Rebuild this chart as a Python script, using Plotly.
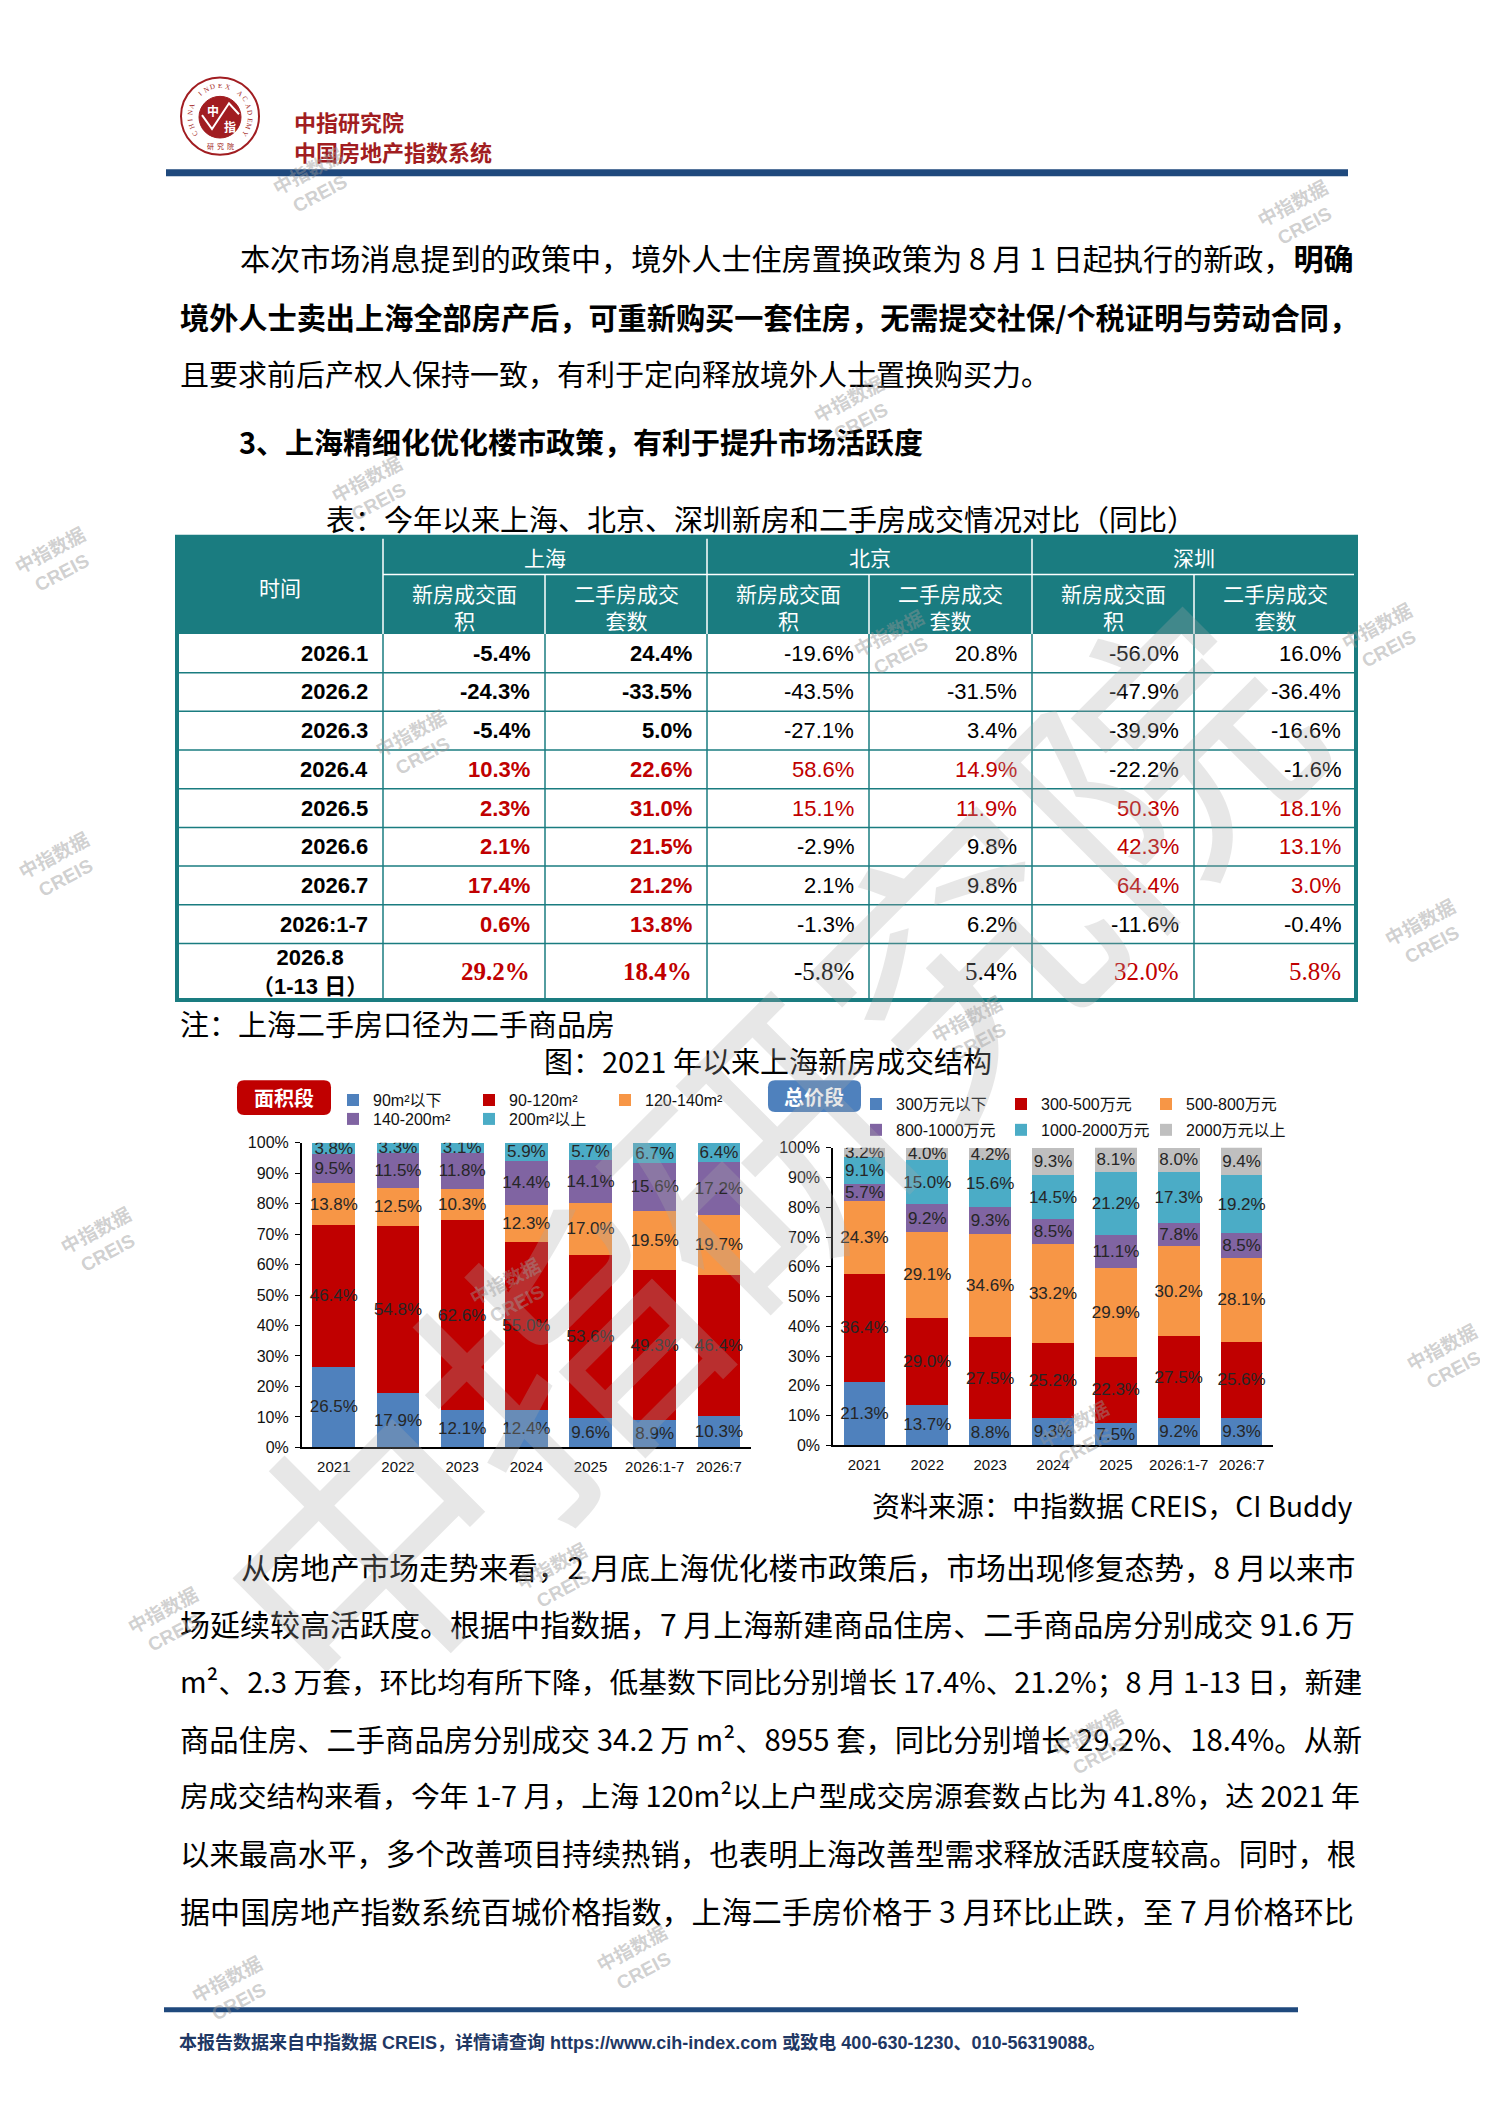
import re
import math
import plotly.graph_objects as go

W, H = 1488, 2104

# ---------------- data ----------------
years = ["2021", "2022", "2023", "2024", "2025", "2026:1-7", "2026:7"]

area_names = ["90m²以下", "90-120m²", "120-140m²", "140-200m²", "200m²以上"]
area_colors = ["#4F81BD", "#C00000", "#F79646", "#8064A2", "#4BACC6"]
area_lt90 = [26.5, 17.9, 12.1, 12.4, 9.6, 8.9, 10.3]
area_90_120 = [46.4, 54.8, 62.6, 55.0, 53.6, 49.3, 46.4]
area_120_140 = [13.8, 12.5, 10.3, 12.3, 17.0, 19.5, 19.7]
area_140_200 = [9.5, 11.5, 11.8, 14.4, 14.1, 15.6, 17.2]
area_gt200 = [3.8, 3.3, 3.1, 5.9, 5.7, 6.7, 6.4]

price_names = ["300万元以下", "300-500万元", "500-800万元",
               "800-1000万元", "1000-2000万元", "2000万元以上"]
price_colors = ["#4F81BD", "#C00000", "#F79646", "#8064A2", "#4BACC6", "#BFBFBF"]
p_lt300 = [21.3, 13.7, 8.8, 9.3, 7.5, 9.2, 9.3]
p_300_500 = [36.4, 29.0, 27.5, 25.2, 22.3, 27.5, 25.6]
p_500_800 = [24.3, 29.1, 34.6, 33.2, 29.9, 30.2, 28.1]
p_800_1000 = [5.7, 9.2, 9.3, 8.5, 11.1, 7.8, 8.5]
p_1000_2000 = [9.1, 15.0, 15.6, 14.5, 21.2, 17.3, 19.2]
p_gt2000 = [3.2, 4.0, 4.2, 9.3, 8.1, 8.0, 9.4]

pct_ticks = list(range(0, 101, 10))
pct_labels = [f"{v}%" for v in pct_ticks]

periods = ["2026.1", "2026.2", "2026.3", "2026.4", "2026.5", "2026.6",
           "2026.7", "2026:1-7", "2026.8<br>（1-13 日）"]
cities = ["上海", "北京", "深圳"]
sub_heads = ["新房成交面<br>积", "二手房成交<br>套数"]
sh_new = [-5.4, -24.3, -5.4, 10.3, 2.3, 2.1, 17.4, 0.6, 29.2]
sh_used = [24.4, -33.5, 5.0, 22.6, 31.0, 21.5, 21.2, 13.8, 18.4]
bj_new = [-19.6, -43.5, -27.1, 58.6, 15.1, -2.9, 2.1, -1.3, -5.8]
bj_used = [20.8, -31.5, 3.4, 14.9, 11.9, 9.8, 9.8, 6.2, 5.4]
sz_new = [-56.0, -47.9, -39.9, -22.2, 50.3, 42.3, 64.4, -11.6, 32.0]
sz_used = [16.0, -36.4, -16.6, -1.6, 18.1, 13.1, 3.0, -0.4, 5.8]
# rows printed in red, per city
red_rows = {"上海": [3, 4, 5, 6, 7, 8], "北京": [3, 4], "深圳": [4, 5, 6, 8]}

para1 = [
    "本次市场消息提到的政策中，境外人士住房置换政策为 8 月 1 日起执行的新政，<b>明确</b>",
    "<b>境外人士卖出上海全部房产后，可重新购买一套住房，无需提交社保/个税证明与劳动合同，</b>",
    "且要求前后产权人保持一致，有利于定向释放境外人士置换购买力。",
]
heading = "<b>3、上海精细化优化楼市政策，有利于提升市场活跃度</b>"
para2 = [
    "从房地产市场走势来看，2 月底上海优化楼市政策后，市场出现修复态势，8 月以来市",
    "场延续较高活跃度。根据中指数据，7 月上海新建商品住房、二手商品房分别成交 91.6 万",
    "m²、2.3 万套，环比均有所下降，低基数下同比分别增长 17.4%、21.2%；8 月 1-13 日，新建",
    "商品住房、二手商品房分别成交 34.2 万 m²、8955 套，同比分别增长 29.2%、18.4%。从新",
    "房成交结构来看，今年 1-7 月，上海 120m²以上户型成交房源套数占比为 41.8%，达 2021 年",
    "以来最高水平，多个改善项目持续热销，也表明上海改善型需求释放活跃度较高。同时，根",
    "据中国房地产指数系统百城价格指数，上海二手房价格于 3 月环比止跌，至 7 月价格环比",
]

CJK = "Noto Sans CJK SC"
SANS = "Liberation Sans, Noto Sans CJK SC"
SERIF = "Liberation Serif, Noto Sans CJK SC"
TEAL = "#1A7C80"
RED = "#C00000"


def X(p):
    return p / W


def Y(p):
    return 1 - p / H


annotations = []
shapes = []


def txt(x, y, s, size, color="#000000", xa="left", ya="middle", family=CJK, angle=0):
    annotations.append(dict(
        x=X(x), y=Y(y), xref="paper", yref="paper", text=s, showarrow=False,
        xanchor=xa, yanchor=ya, textangle=angle,
        font=dict(family=family, size=size, color=color)))


def line(x0, y0, x1, y1, color, width):
    shapes.append(dict(type="line", xref="paper", yref="paper",
                       x0=X(x0), y0=Y(y0), x1=X(x1), y1=Y(y1),
                       line=dict(color=color, width=width)))


def rect(x0, y0, x1, y1, fill, lc=None, lw=0):
    shapes.append(dict(type="rect", xref="paper", yref="paper",
                       x0=X(x0), y0=Y(y0), x1=X(x1), y1=Y(y1), fillcolor=fill,
                       line=dict(color=lc or fill, width=lw), layer="below"))


def rounded(x0, y0, x1, y1, r, fill):
    pts = [("M", x0 + r, y0), ("L", x1 - r, y0), ("Q", x1, y0, x1, y0 + r),
           ("L", x1, y1 - r), ("Q", x1, y1, x1 - r, y1), ("L", x0 + r, y1),
           ("Q", x0, y1, x0, y1 - r), ("L", x0, y0 + r), ("Q", x0, y0, x0 + r, y0)]
    path = ""
    for p in pts:
        coords = p[1:]
        seg = " ".join(f"{X(coords[i]):.5f},{Y(coords[i + 1]):.5f}" for i in range(0, len(coords), 2))
        path += f"{p[0]} {seg} "
    shapes.append(dict(type="path", xref="paper", yref="paper", path=path + "Z",
                       fillcolor=fill, line=dict(width=0)))


def est_em(s):
    s = re.sub(r"<[^>]+>", "", s)
    w = 0
    for ch in s:
        if ord(ch) > 0x2E80:
            w += 1.0
        elif ch == " ":
            w += 0.25
        elif ch in ".,:;":
            w += 0.27
        elif ch in "-/":
            w += 0.33
        elif ch == "%":
            w += 0.88
        elif ch == "m":
            w += 0.83
        elif ch == "²":
            w += 0.36
        else:
            w += 0.55
    return w


def body_line(x, y, s, justify=True, right=1347):
    size = 29
    if justify:
        size = max(26, min(31, (right - x) / est_em(s)))
    txt(x, y, s, size)


# ---------------- header ----------------
shapes.append(dict(type="circle", xref="paper", yref="paper",
                   x0=X(173), x1=X(251), y0=Y(62), y1=Y(140),
                   line=dict(color="#A11D21", width=2)))
shapes.append(dict(type="circle", xref="paper", yref="paper",
                   x0=X(191), x1=X(233), y0=Y(81), y1=Y(123),
                   fillcolor="#A11D21", line=dict(color="#A11D21", width=1)))
ring = "CHINA INDEX ACADEMY"
for i, ch in enumerate(ring):
    th = math.radians(215 - i * 250 / (len(ring) - 1))
    txt(212 + 30 * math.cos(th), 101 - 30 * math.sin(th), ch, 7, "#A11D21",
        xa="center", family="Liberation Serif", angle=90 - math.degrees(th))
for i, ch in enumerate("研究院"):
    txt(202 + i * 10, 131, ch, 7, "#A11D21", xa="center")
txt(205, 95, "<b>中</b>", 12, "white", xa="center")
txt(222, 111, "<b>指</b>", 12, "white", xa="center")
shapes.append(dict(type="path", xref="paper", yref="paper",
                   path=f"M {X(194)},{Y(100)} L {X(204)},{Y(114)} L {X(221)},{Y(88)} L {X(231)},{Y(99)}",
                   line=dict(color="white", width=2)))
txt(284, 106, "<b>中指研究院</b>", 22, "#A11D21")
txt(284, 136, "<b>中国房地产指数系统</b>", 22, "#A11D21")
line(158, 158, 1340, 158, "#1F497D", 7)

# ---------------- text block 1 ----------------
body_line(230, 243, para1[0])
body_line(170, 302, para1[1])
body_line(170, 360, para1[2], justify=False)
txt(229, 428, heading, 29)

# ---------------- table ----------------
txt(753, 506, "表：今年以来上海、北京、深圳新房和二手房成交情况对比（同比）", 29, xa="center")
col_x = [169, 375, 537, 699, 861, 1024, 1186, 1348]
top, mid, head_bot = 525, 563, 623
row_y = [head_bot + 39 * i for i in range(len(periods))] + [992]

rect(col_x[0], top, col_x[-1], head_bot, TEAL)
line(col_x[1], top, col_x[1], head_bot, "white", 1.5)
line(col_x[3], top, col_x[3], head_bot, "white", 1.5)
line(col_x[5], top, col_x[5], head_bot, "white", 1.5)
line(col_x[1], mid, col_x[-1], mid, "white", 1.5)
for k in (2, 4, 6):
    line(col_x[k], mid, col_x[k], head_bot, "white", 1.5)
txt((col_x[0] + col_x[1]) / 2, 576, "时间", 21, "white", xa="center")
for ci, city in enumerate(cities):
    txt((col_x[1 + 2 * ci] + col_x[3 + 2 * ci]) / 2, 545, city, 21, "white", xa="center")
    for si, sh in enumerate(sub_heads):
        k = 1 + 2 * ci + si
        txt((col_x[k] + col_x[k + 1]) / 2, 595, sh, 21, "white", xa="center")

for r in range(1, len(row_y) - 1):
    line(col_x[0], row_y[r], col_x[-1], row_y[r], TEAL, 1.5)
for k in range(1, len(col_x) - 1):
    line(col_x[k], head_bot, col_x[k], row_y[-1], TEAL, 1.5)
shapes.append(dict(type="rect", xref="paper", yref="paper",
                   x0=X(col_x[0]), y0=Y(top), x1=X(col_x[-1]), y1=Y(row_y[-1]),
                   line=dict(color=TEAL, width=4)))

columns = [("上海", sh_new), ("上海", sh_used), ("北京", bj_new),
           ("北京", bj_used), ("深圳", sz_new), ("深圳", sz_used)]
for r, label in enumerate(periods):
    yc = (row_y[r] + row_y[r + 1]) / 2
    txt(col_x[1] - 13, yc, f"<b>{label}</b>", 22, xa="right", family=SANS)
    last = r == len(periods) - 1
    for k, (city, vals) in enumerate(columns):
        s = f"{vals[r]:.1f}%"
        if city == "上海":
            s = f"<b>{s}</b>"
        color = RED if r in red_rows[city] else "#000000"
        txt(col_x[k + 2] - 13, yc, s, 25 if last else 22, color, xa="right",
            family=SERIF if last else SANS)

txt(170, 1015, "注：上海二手房口径为二手商品房", 29)
txt(760, 1053, "图：2021 年以来上海新房成交结构", 29, xa="center")

# ---------------- charts ----------------
fig = go.Figure()
area_series = [area_lt90, area_90_120, area_120_140, area_140_200, area_gt200]
for i, (name, vals) in enumerate(zip(area_names, area_series)):
    fig.add_trace(go.Bar(
        x=years, y=vals, name=name, marker=dict(color=area_colors[i], line=dict(width=0)),
        text=[f"{v:.1f}%" for v in vals], textposition="inside", insidetextanchor="middle",
        textangle=0, constraintext="none",
        textfont=dict(family=SANS, size=17, color="#262626"),
        xaxis="x", yaxis="y", legend="legend" if i < 3 else "legend2"))
price_series = [p_lt300, p_300_500, p_500_800, p_800_1000, p_1000_2000, p_gt2000]
for i, (name, vals) in enumerate(zip(price_names, price_series)):
    fig.add_trace(go.Bar(
        x=years, y=vals, name=name, marker=dict(color=price_colors[i], line=dict(width=0)),
        text=[f"{v:.1f}%" for v in vals], textposition="inside", insidetextanchor="middle",
        textangle=0, constraintext="none",
        textfont=dict(family=SANS, size=17, color="#262626"),
        xaxis="x2", yaxis="y2", legend="legend3" if i < 3 else "legend4"))

xa = dict(type="category", range=[-0.5, 6.5], showline=True, linecolor="black", linewidth=1.5,
          ticks="", showgrid=False, tickfont=dict(family=SANS, size=15, color="#111"),
          ticklabelstandoff=5, fixedrange=True)
ya = dict(range=[0, 100], tickmode="array", tickvals=pct_ticks, ticktext=pct_labels,
          showline=True, linecolor="black", linewidth=1.5, ticks="outside", ticklen=5,
          tickcolor="black", showgrid=False, zeroline=False,
          tickfont=dict(family=SANS, size=16, color="#111"), ticklabelstandoff=3)

rounded(229, 1073, 323, 1108, 7, RED)
txt(276, 1090, "<b>面积段</b>", 20, "white", xa="center")
rounded(760, 1073, 853, 1105, 7, "#4F81BD")
txt(806, 1089, "<b>总价段</b>", 20, "white", xa="center")

legend_base = dict(orientation="h", xanchor="left", yanchor="middle", traceorder="normal",
                   bgcolor="rgba(0,0,0,0)", entrywidthmode="pixels",
                   font=dict(family=SANS, size=16, color="#111"), itemclick=False)

txt(1347, 1501, "资料来源：中指数据 CREIS，CI Buddy", 28, xa="right")

# ---------------- text block 2 ----------------
body_line(231, 1563, para2[0])
for i, s in enumerate(para2[1:]):
    body_line(170, 1620 + i * 57.8, s)

# ---------------- footer ----------------
line(156, 2010, 1290, 2010, "#1F497D", 5)
txt(169, 2043, "<b>本报告数据来自中指数据 CREIS，详情请查询 https://www.cih-index.com 或致电 400-630-1230、010-56319088。</b>",
    18, "#1F3864", family="Liberation Sans Narrow, Liberation Sans, Noto Sans CJK SC")

# ---------------- watermarks ----------------
marks = [(306, 168), (1291, 201), (847, 398), (365, 479), (48, 550), (887, 634), (1375, 627),
         (409, 735), (52, 858), (1418, 925), (94, 1236), (503, 1287), (965, 1023),
         (1440, 1354), (1072, 1432), (550, 1575), (161, 1619), (1086, 1743), (630, 1960),
         (225, 1991)]
for mx, my in marks:
    txt(mx, my, "<b>中指数据<br>CREIS</b>", 19, "rgba(150,150,150,0.45)", xa="center",
        family=SANS, angle=-28)
txt(745, 1140, "中指研究院", 280, "rgba(170,170,170,0.28)", xa="center", angle=-45)

fig.update_layout(
    width=W, height=H, margin=dict(l=0, r=0, t=0, b=0),
    paper_bgcolor="white", plot_bgcolor="rgba(0,0,0,0)",
    barmode="stack", bargap=0.335, showlegend=True,
    uniformtext=dict(minsize=17, mode="show"),
    xaxis=dict(xa, domain=[X(293.7), X(743)], anchor="y"),
    yaxis=dict(ya, domain=[Y(1443), Y(1136)], anchor="x"),
    xaxis2=dict(xa, domain=[X(825), X(1265)], anchor="y2"),
    yaxis2=dict(ya, domain=[Y(1441), Y(1141)], anchor="x2"),
    legend=dict(legend_base, x=X(325), y=Y(1093), entrywidth=91),
    legend2=dict(legend_base, x=X(325), y=Y(1112), entrywidth=91),
    legend3=dict(legend_base, x=X(848), y=Y(1097), entrywidth=100),
    legend4=dict(legend_base, x=X(848), y=Y(1123), entrywidth=100),
    annotations=annotations, shapes=shapes,
)

fig.write_html("out.html")
